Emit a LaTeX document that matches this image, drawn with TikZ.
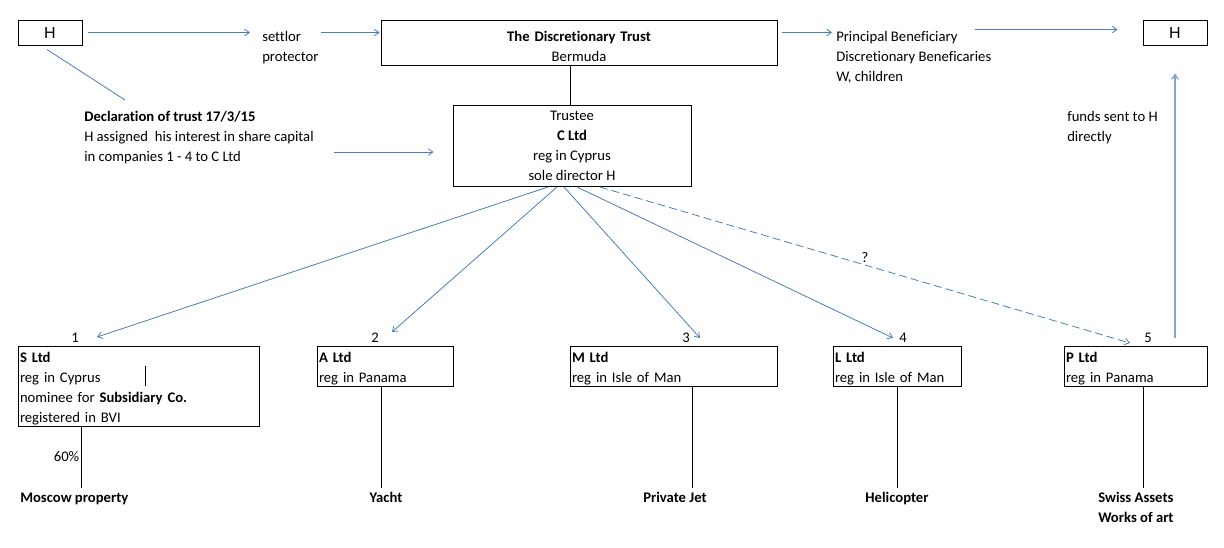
\documentclass[tikz,border=0pt]{standalone}
\usepackage{fontspec}
\setmainfont{Carlito}[Ligatures=NoCommon]
\newfontfamily\arialfont{Liberation Sans}
\usetikzlibrary{positioning, arrows.meta}
\definecolor{lineblue}{RGB}{74,126,187}
\definecolor{fundblue}{RGB}{130,165,210}

\begin{document}
\begin{tikzpicture}[x=0.75pt, y=-0.75pt,
    every node/.style={font=\fontsize{11}{15}\selectfont},
    box/.style={draw, line width=0.75pt, inner xsep=1.5pt, inner ysep=0pt, align=center},
    lbox/.style={box, align=left},
    lowtext/.style={execute at begin node={\rule{0pt}{#1}}},
    lowtext/.default=11pt,
    txt/.style={inner sep=0pt, align=left},
    hbox/.style={draw, line width=0.75pt, minimum width=48pt, minimum height=18.75pt,
                 inner sep=0pt, font=\arialfont\fontsize{12}{14}\selectfont},
    arr/.style={-{Straight Barb[length=3.5pt,width=5pt]}, color=lineblue, line width=0.6pt},
    link/.style={line width=0.75pt}]
  \useasboundingbox (0,0) rectangle (1224,547);

  % top row
  \node[hbox] (hleft) at (50,32.5) {H};
  \node[txt, anchor=west] (settlor) at (262,47.5) {settlor\\protector};
  \node[box, lowtext=14pt, text width=294pt, minimum height=33.75pt] (trust) at (579,42.5)
    {\textbf{The Discretionary Trust}\\Bermuda};
  \node[txt, anchor=west] (benef) at (836,57) {Principal Beneficiary\\Discretionary Beneficaries\\W, children};
  \node[hbox] (hright) at (1175,32.5) {H};

  % trustee level
  \node[txt, anchor=west] (decl) at (84,138)
    {\textbf{Declaration of trust 17/3/15}\\H assigned\ \ his interest in share capital\\in companies 1 - 4 to C Ltd};
  \node[box, minimum width=178.5pt, minimum height=60.75pt] (trustee) at (572,146)
    {Trustee\\\textbf{C Ltd}\\reg in Cyprus\\sole director H};
  \node[txt, anchor=west] (funds) at (1067,128) {funds sent to H\\directly};

  % companies
  \node[inner sep=0pt] (n1) at (75,338) {1};
  \node[inner sep=0pt] (n2) at (375,338) {2};
  \node[inner sep=0pt] (n3) at (686,338) {3};
  \node[inner sep=0pt] (n4) at (903,338) {4};
  \node[inner sep=0pt] (n5) at (1148,338) {5};
  \node[lbox, lowtext, minimum height=60pt, text width=177.75pt] (sltd) at (138.5,386)
    {\textbf{S Ltd}\\reg in Cyprus\\nominee for \textbf{Subsidiary Co.}\\registered in BVI};
  \node[lbox, lowtext, minimum height=30pt, text width=99pt] (altd) at (385,366)
    {\textbf{A Ltd}\\reg in Panama};
  \node[lbox, lowtext, minimum height=30pt, text width=152.25pt] (mltd) at (673.5,366)
    {\textbf{M Ltd}\\reg in Isle of Man};
  \node[lbox, lowtext, minimum height=30pt, text width=93pt] (lltd) at (897,366)
    {\textbf{L Ltd}\\reg in Isle of Man};
  \node[lbox, lowtext, minimum height=30pt, text width=104.25pt] (pltd) at (1135.5,366)
    {\textbf{P Ltd}\\reg in Panama};

  % assets
  \node[txt, anchor=west] (moscow) at (20,499) {\textbf{Moscow property}};
  \node[txt] (yacht) at (386,497) {\textbf{Yacht}};
  \node[txt] (jet) at (675,497.5) {\textbf{Private Jet}};
  \node[txt] (heli) at (897,498) {\textbf{Helicopter}};
  \node[txt, anchor=west] (swiss) at (1098,507.5) {\textbf{Swiss Assets}\\\textbf{Works of art}};

  \coordinate (bout) at (975,29.5);
  \coordinate (dtop) at (125,100);
  \coordinate (dout) at (334,152);
  \coordinate (t1) at (97,337);
  \coordinate (t2) at (392,332);
  \coordinate (t3) at (700,338);
  \coordinate (t4) at (893,338);
  \coordinate (t5) at (1130,343);

  % arrows along the top
  \draw[arr, shorten <=3.75pt, shorten >=9pt] (hleft.east) -- (hleft.east -| settlor.west);
  \draw[arr, shorten <=1.5pt, shorten >=0.75pt] (hleft.east -| settlor.east) -- (hleft.east -| trust.west);
  \draw[arr, shorten <=3pt, shorten >=3pt] (hleft.east -| trust.east) -- (hleft.east -| benef.west);
  \draw[arr, shorten >=18.75pt] (bout) -- (bout -| hright.west);
  \draw[color=lineblue, line width=0.6pt] (hleft.south) ++(-3,4) -- (dtop);
  \draw[arr, shorten >=14.25pt] (dout) -- (dout -| trustee.west);
  \draw[link] (trustee.north) ++(-2,0) -- ++(0,-40);

  % trustee to companies
  \draw[arr] (trustee.south) ++(-24,0) -- (t1);
  \draw[arr] (trustee.south) ++(-15,0) -- (t2);
  \draw[arr] (trustee.south) ++(-8,0) -- (t3);
  \draw[arr] (trustee.south) ++(5,0) -- (t4);
  \draw[arr, dash pattern=on 6pt off 3pt] (trustee.south) ++(28,0) -- node[above, inner sep=1.5pt, text=black] (qmark) {?} (t5);
  \draw[arr, color=fundblue, line width=1pt, shorten <=6pt, shorten >=21pt] (pltd.north -| hright.south) -- (hright.south);

  % companies to assets
  \draw[link] (sltd.north) ++(6.5,20) -- ++(0,20);
  \draw[link] (sltd.south) ++(-57.5,0) -- node[left, inner sep=1pt] (pct) {60\%} ++(0,61);
  \draw[link] (altd.south) ++(-4,0) -- ++(0,101);
  \draw[link] (mltd.south) ++(18.5,0) -- ++(0,101);
  \draw[link] (lltd.south) -- ++(0,101);
  \draw[link] (pltd.south) ++(7.5,0) -- ++(0,101);
\end{tikzpicture}
\end{document}
